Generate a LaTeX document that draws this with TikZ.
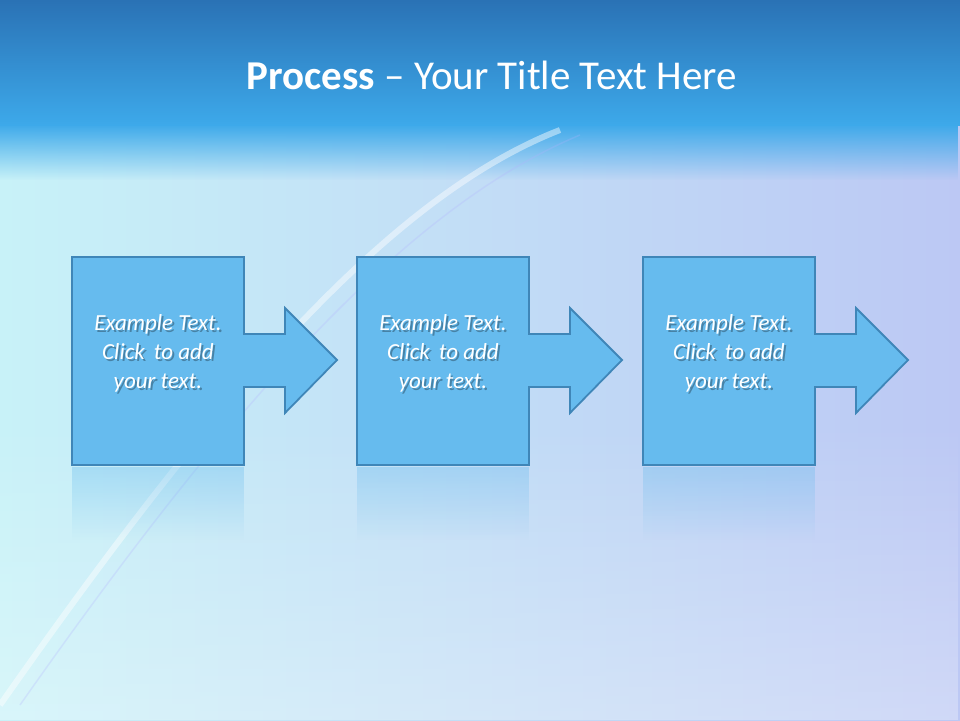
\documentclass[tikz,border=0pt]{standalone}
\usepackage{fontspec}
\setmainfont{Carlito}
\usetikzlibrary{fadings}
\definecolor{bandtop}{HTML}{2A72B5}
\definecolor{bandbot}{HTML}{3DA9EA}
\definecolor{bgleft}{HTML}{C8F2F8}
\definecolor{bgright}{HTML}{BCC8F4}
\definecolor{shapefill}{HTML}{66BBEE}
\definecolor{shapeline}{HTML}{3F86B8}
\tikzset{
  procshape/.style={fill=shapefill, draw=shapeline, line width=1.8pt, line join=miter},
  reflshape/.style={fill=shapefill, opacity=0.35, path fading=south},
  boxtext/.style={text=white, font=\itshape\fontsize{23}{29}\selectfont, align=center},
  shadowtext/.style={boxtext, text=black, opacity=0.3},
}
\begin{document}
\begin{tikzpicture}[x=1pt,y=-1pt]
\useasboundingbox (0,0) rectangle (960,720);
\shade[left color=bgleft, right color=bgright] (0,0) rectangle (960,720);
\fill[white, opacity=0.3, path fading=north] (0,420) rectangle (960,720);
\shade[top color=bandtop, bottom color=bandbot] (0,0) rectangle (960,125);
\fill[bandbot, path fading=south] (0,124) rectangle (960,180);
\draw[white, line width=6pt, opacity=0.45] (0,705) .. controls (200,420) and (380,200) .. (560,130);
\draw[white!70!blue, line width=1.5pt, opacity=0.25] (20,705) .. controls (220,420) and (400,210) .. (580,135);
\node[text=white, font=\fontsize{41}{48}\selectfont] (title) at (492,75) {\textbf{Process} -- Your Title Text Here};
\foreach \dx/\n in {0/a,285/b,571/c}{
  \begin{scope}[xshift=\dx]
  \fill[reflshape] (72,467) rectangle (244,540);
  \draw[procshape] (72,257) -- (244,257) -- (244,334) -- (285,334) -- (285,308) -- (337,360) -- (285,413) -- (285,387) -- (244,387) -- (244,465) -- (72,465) -- cycle;
  \node[shadowtext] (s\n) at (160,355) {Example Text.\\Click\, to add\\your text.};
  \node[boxtext] (t\n) at (158,353) {Example Text.\\Click\, to add\\your text.};
  \end{scope}
}
\end{tikzpicture}
\end{document}
